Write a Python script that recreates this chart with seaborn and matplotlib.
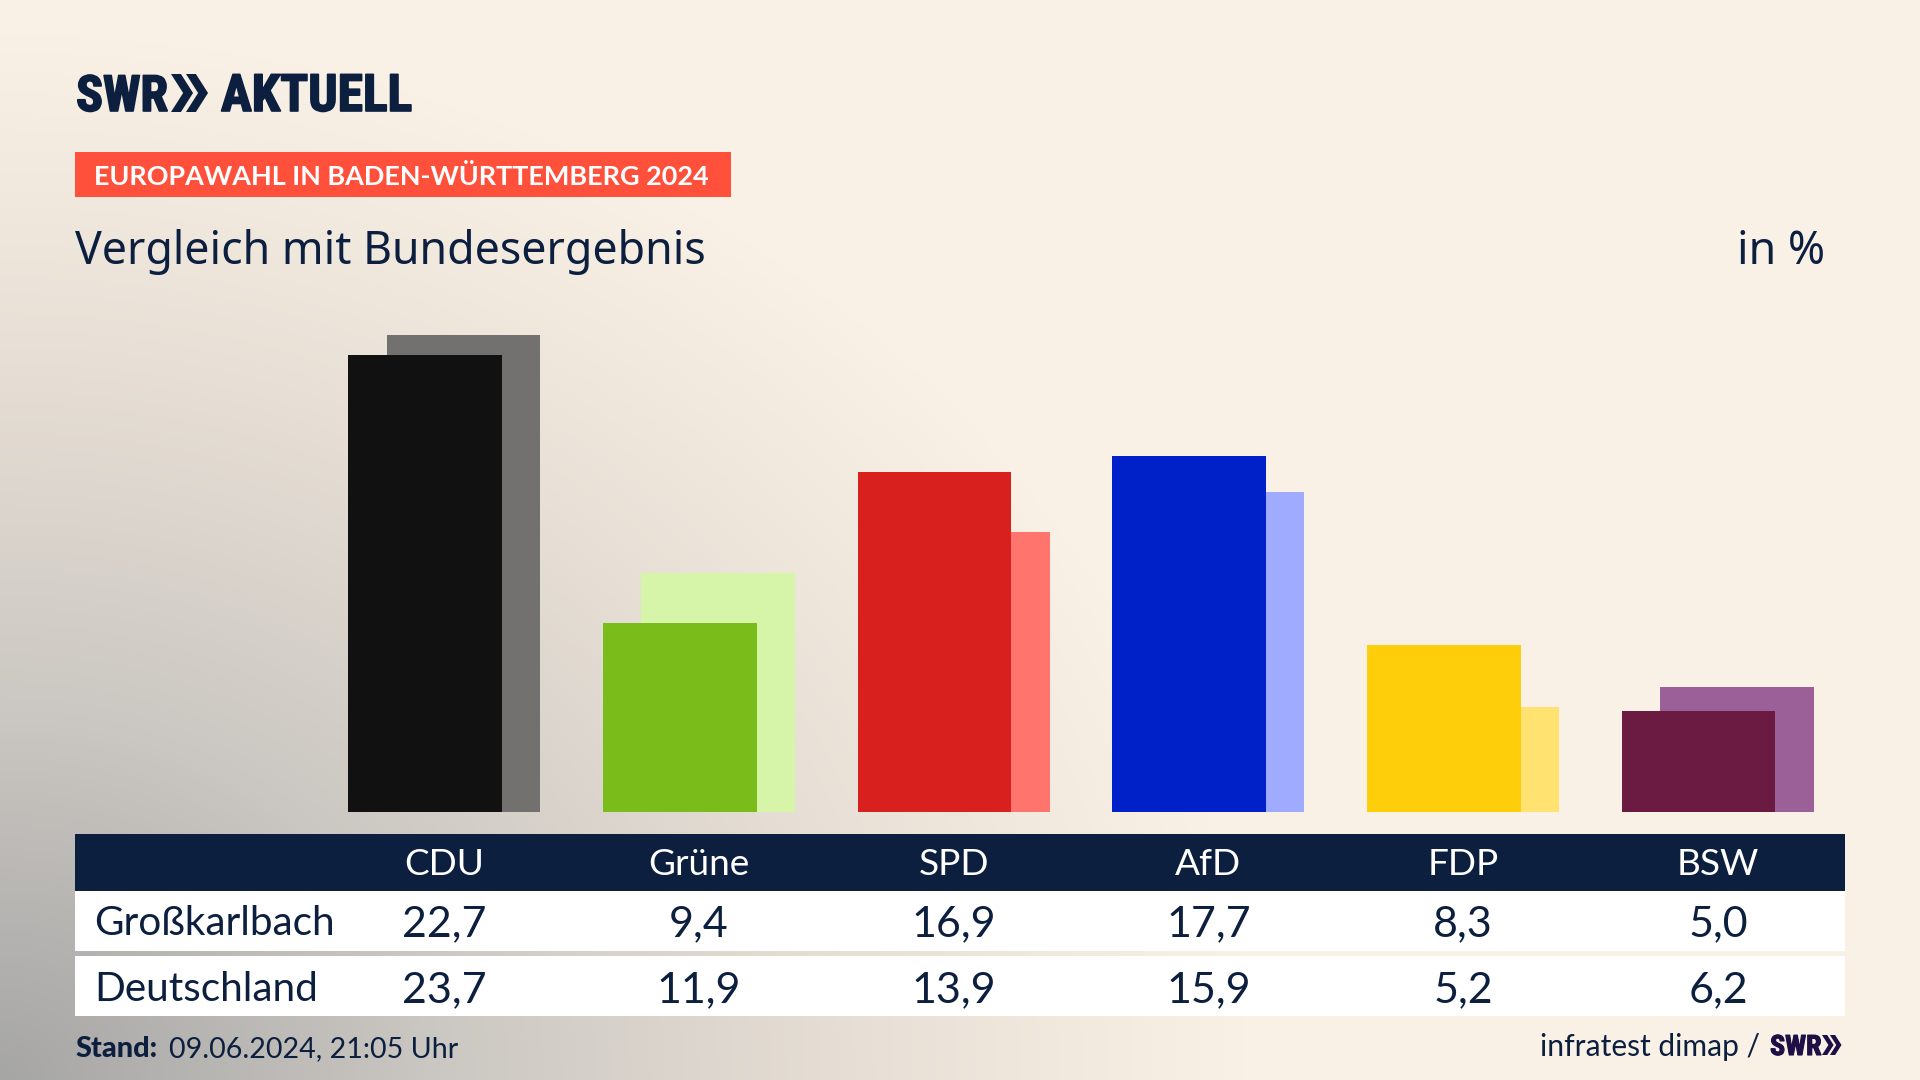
import numpy as np
import pandas as pd
import matplotlib.pyplot as plt
import matplotlib.patheffects as pe
import seaborn as sns
from matplotlib.patches import Polygon, Rectangle
from matplotlib.colors import LinearSegmentedColormap

parteien = ['CDU', 'Grüne', 'SPD', 'AfD', 'FDP', 'BSW']
grosskarlbach = [22.7, 9.4, 16.9, 17.7, 8.3, 5.0]
deutschland = [23.7, 11.9, 13.9, 15.9, 5.2, 6.2]
farben_vorne = ['#111111', '#7ABD1B', '#D8201E', '#0020C8', '#FFCE0A', '#6B1A41']
farben_hinten = ['#73716F', '#D7F5A8', '#FF756D', '#9EABFF', '#FFE270', '#9B6098']

navy = '#0C1F3F'
creme = '#FAF1E6'
logo_font = ['Roboto Condensed', 'Lato']
titel_font = ['Noto Sans', 'Lato']

sns.set_theme(style='white')
plt.rcParams['font.family'] = ['Lato', 'DejaVu Sans']

f = plt.figure(figsize=(19.2, 10.8), dpi=100)

# hintergrund, grauer verlauf von unten links
bg = f.add_axes([0, 0, 1, 1], zorder=0)
yy, xx = np.mgrid[0:1080:270j, 0:1920:480j]
t = np.sqrt((xx / 1250) ** 2 + ((1080 - yy) / 1050) ** 2)
verlauf = LinearSegmentedColormap.from_list(
    'verlauf', [(0, '#A6A6A5'), (0.35, '#CBC7C2'), (0.7, '#E8E0D6'), (1, creme)])
bg.imshow(np.clip(t, 0, 1), cmap=verlauf, vmin=0, vmax=1, aspect='auto', extent=(0, 1920, 1080, 0))
bg.axis('off')

# balken
ax = f.add_axes([317 / 1920, (1080 - 812) / 1080, 1528 / 1920, 503 / 1080], zorder=1)
ax.patch.set_alpha(0)
pos = np.arange(len(parteien))
versatz = 0.0755
df_hinten = pd.DataFrame({'pos': pos + versatz, 'wert': deutschland, 'partei': parteien})
df_vorne = pd.DataFrame({'pos': pos - versatz, 'wert': grosskarlbach, 'partei': parteien})
sns.barplot(data=df_hinten, x='pos', y='wert', hue='partei', palette=farben_hinten, dodge=False,
            native_scale=True, width=0.604, saturation=1, legend=False, linewidth=0, ax=ax)
sns.barplot(data=df_vorne, x='pos', y='wert', hue='partei', palette=farben_vorne, dodge=False,
            native_scale=True, width=0.604, saturation=1, legend=False, linewidth=0, ax=ax)
ax.set_xlim(-0.5, 5.5)
ax.set_ylim(0, 25)
ax.axis('off')

# alles andere in pixeln
o = f.add_axes([0, 0, 1, 1], zorder=2)
o.set_xlim(0, 1920)
o.set_ylim(1080, 0)
o.axis('off')
o.patch.set_alpha(0)


def px(n):
    return n * 0.72


def chevrons(x, y, h, farbe):
    # zwei spitzen wie im SWR logo
    b = h * 0.58
    for dx in (0, b * 0.68):
        o.add_patch(Polygon([(x + dx, y), (x + dx + b * 0.55, y + h / 2), (x + dx, y + h),
                             (x + dx + b * 0.45, y + h), (x + dx + b, y + h / 2), (x + dx + b * 0.45, y)],
                            closed=True, color=farbe, lw=0))


def logo_text(x, y, s, groesse, farbe, dick):
    o.text(x, y, s, fontsize=px(groesse), fontweight='bold', color=farbe, family=logo_font,
           path_effects=[pe.withStroke(linewidth=dick, foreground=farbe)])


logo_text(76, 111, 'SWR', 50, navy, 1.2)
chevrons(171, 74, 38, navy)
logo_text(221, 111, 'AKTUELL', 51.5, navy, 1.2)

o.add_patch(Rectangle((75, 152), 656, 45, color='#FF503C', lw=0))
o.text(94, 185, 'EUROPAWAHL IN BADEN-WÜRTTEMBERG 2024', fontsize=px(27.05), fontweight='bold', color='white')
o.text(75, 264, 'Vergleich mit Bundesergebnis', fontsize=px(44.7), color=navy, family=titel_font)
o.text(1825, 264, 'in %', fontsize=px(44.7), color=navy, ha='right', family=titel_font)

# tabelle
o.add_patch(Rectangle((75, 834), 1770, 57, color=navy, lw=0))
o.add_patch(Rectangle((75, 891), 1770, 60, color='white', lw=0))
o.add_patch(Rectangle((75, 956), 1770, 60, color='white', lw=0))
spalten = 444 + 254.8 * pos
for i, x in enumerate(spalten):
    o.text(x, 875, parteien[i], fontsize=px(37), color='white', ha='center')
    o.text(x, 936, f'{grosskarlbach[i]:.1f}'.replace('.', ','), fontsize=px(43), color=navy, ha='center')
    o.text(x, 1002, f'{deutschland[i]:.1f}'.replace('.', ','), fontsize=px(43), color=navy, ha='center')
o.text(94, 935, 'Großkarlbach', fontsize=px(40.5), color=navy)
o.text(94, 1001, 'Deutschland', fontsize=px(40.5), color=navy)

# fusszeile
o.text(75, 1057, 'Stand:', fontsize=px(29), fontweight='black', color=navy)
o.text(169, 1057, '09.06.2024, 21:05 Uhr', fontsize=px(28.6), color=navy)
o.text(1760, 1056, 'infratest dimap /', fontsize=px(30), color=navy, ha='right')
logo_text(1770, 1055, 'SWR', 28, '#1E0F45', 0.8)
chevrons(1822, 1035, 20, '#1E0F45')

f.savefig('out.png', dpi=100)
